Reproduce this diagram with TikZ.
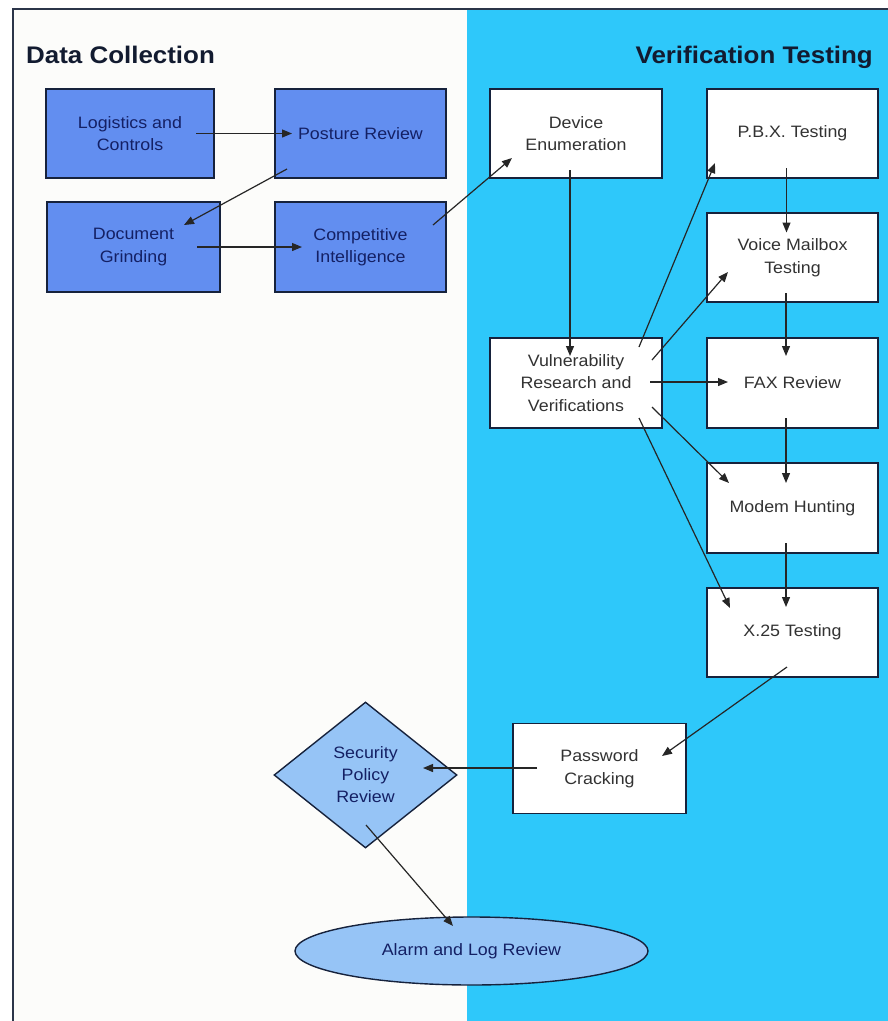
\documentclass[tikz,border=0pt]{standalone}
\usepackage{fontspec}
\setmainfont{Liberation Sans}[FakeStretch=1.08]
\usetikzlibrary{arrows.meta,shapes.geometric}
\definecolor{cyanbg}{RGB}{46,200,250}
\definecolor{leftbg}{RGB}{252,252,250}
\definecolor{bluebox}{RGB}{98,142,240}
\definecolor{lightblue}{RGB}{150,196,246}
\definecolor{navy}{RGB}{20,32,100}
\definecolor{edge}{RGB}{22,34,60}
\definecolor{graytext}{RGB}{50,50,50}
\tikzset{
  base/.style={draw=edge,line width=1.6pt,minimum width=171pt,minimum height=89pt,align=center,font=\fontsize{16.5}{22.5}\selectfont,inner sep=2pt},
  bluestep/.style={base,fill=bluebox,text=navy},
  whitestep/.style={base,fill=white,text=graytext},
  arr/.style={draw=black!85,line width=1.2pt,-{Triangle[length=10pt,width=8pt]}},
  title/.style={font=\fontsize{24}{27}\bfseries\selectfont,text=edge!80!black,inner sep=0pt}
}
\begin{document}
\begin{tikzpicture}[x=1pt,y=-1pt]
\useasboundingbox (0,0) rectangle (888,1021);
\fill[white] (0,0) rectangle (888,1021);
\fill[leftbg] (12,9) rectangle (467,1021);
\fill[cyanbg] (467,9) rectangle (888,1021);
\draw[edge!80!gray,line width=2pt] (12.5,1021) -- (12.5,9) -- (888,9);

\node[title,anchor=base west] (t1) at (26,63) {Data Collection};
\node[title,anchor=base east] (t2) at (873,63) {Verification Testing};

\node[bluestep,minimum width=168pt] (logi) at (130,133.5) {Logistics and\\Controls};
\node[bluestep] (post) at (360.5,133.5) {Posture Review};
\node[bluestep,minimum width=173pt,minimum height=90pt] (doc) at (133.5,247) {Document\\Grinding};
\node[bluestep,minimum height=90pt] (comp) at (360.5,247) {Competitive\\Intelligence};

\node[whitestep,minimum width=172pt] (dev) at (576,133.5) {Device\\Enumeration};
\node[whitestep] (pbx) at (792.5,133.5) {P.B.X. Testing};
\node[whitestep] (voice) at (792.5,257.5) {Voice Mailbox\\Testing};
\node[whitestep,minimum width=172pt,minimum height=90pt] (vuln) at (576,383) {Vulnerability\\Research and\\Verifications};
\node[whitestep,minimum height=90pt] (fax) at (792.5,383) {FAX Review};
\node[whitestep,minimum height=90pt] (modem) at (792.5,508) {Modem Hunting};
\node[whitestep] (x25) at (792.5,632.5) {X.25 Testing};
\node[whitestep,minimum width=173pt,minimum height=90pt] (pass) at (599.5,768.5) {Password\\Cracking};

\node[diamond,draw=edge,line width=1.4pt,fill=lightblue,text=navy,align=center,
  minimum width=183pt,minimum height=146pt,inner sep=0pt,
  font=\fontsize{16.5}{22}\selectfont] (sec) at (365.5,775) {Security\\Policy\\Review};
\node[ellipse,draw=edge,line width=1.4pt,fill=lightblue,text=navy,
  minimum width=353pt,minimum height=68pt,inner sep=0pt,
  font=\fontsize{16.5}{22}\selectfont] (alarm) at (471.5,951) {Alarm and Log Review};

\draw[arr] ([shift={(66,0)}]logi.center) -- ([shift={(-68.5,0)}]post.center);
\draw[arr] ([shift={(-73.5,35.5)}]post.center) -- ([shift={(50.5,-22)}]doc.center);
\draw[arr] ([shift={(63.5,0)}]doc.center) -- ([shift={(-58.5,0)}]comp.center);
\draw[arr] ([shift={(72.5,-22)}]comp.center) -- ([shift={(-64,24.5)}]dev.center);
\draw[arr] ([shift={(-6,36.5)}]dev.center) -- ([shift={(-6,-27)}]vuln.center);
\draw[arr] ([shift={(63,-36)}]vuln.center) -- ([shift={(-77.5,29.5)}]pbx.center);
\draw[arr] ([shift={(76,-23)}]vuln.center) -- ([shift={(-64.5,14.5)}]voice.center);
\draw[arr] ([shift={(74,-1)}]vuln.center) -- ([shift={(-64.5,-1)}]fax.center);
\draw[arr] ([shift={(76,24)}]vuln.center) -- ([shift={(-63.5,-25)}]modem.center);
\draw[arr] ([shift={(63,35)}]vuln.center) -- ([shift={(-62.5,-24.5)}]x25.center);
\draw[arr] ([shift={(-6,34.5)}]pbx.center) -- ([shift={(-6,-25)}]voice.center);
\draw[arr] ([shift={(-6.5,35.5)}]voice.center) -- ([shift={(-6.5,-27)}]fax.center);
\draw[arr] ([shift={(-6.5,35)}]fax.center) -- ([shift={(-6.5,-25)}]modem.center);
\draw[arr] ([shift={(-6.5,35)}]modem.center) -- ([shift={(-6.5,-25.5)}]x25.center);
\draw[arr] ([shift={(-5.5,34.5)}]x25.center) -- ([shift={(62.5,-12.5)}]pass.center);
\draw[arr] ([shift={(-62.5,-0.5)}]pass.center) -- ([shift={(57.5,-7)}]sec.center);
\draw[arr] ([shift={(0.5,50)}]sec.center) -- ([shift={(-18.5,-25)}]alarm.center);
\end{tikzpicture}
\end{document}
